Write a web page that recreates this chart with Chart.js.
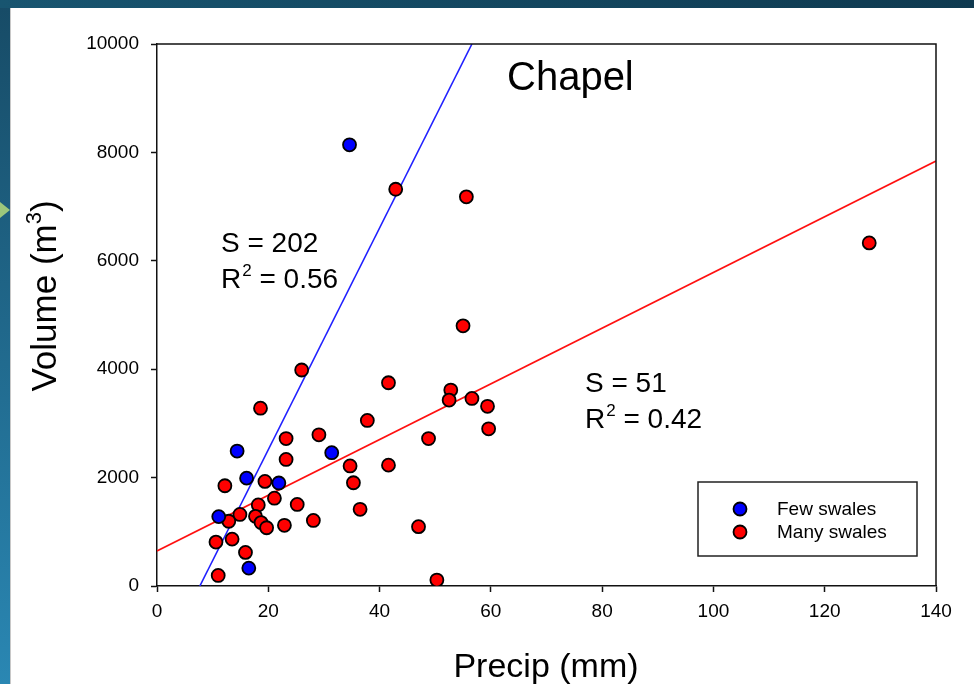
<!DOCTYPE html>
<html>
<head>
<meta charset="utf-8">
<script src="https://cdn.jsdelivr.net/npm/chart.js@4.4.1/dist/chart.umd.min.js"></script>
<style>
  html, body { margin: 0; padding: 0; }
  body {
    width: 974px; height: 684px; overflow: hidden; position: relative;
    background: linear-gradient(to bottom, #174b66, #2a87b3);
    font-family: "Liberation Sans", Arial, sans-serif;
  }
  .top-strip {
    position: absolute; left: 0; top: 0; width: 974px; height: 8px;
    background: linear-gradient(to right, #185570, #0f3a50);
  }
  .panel {
    position: absolute; left: 10px; top: 8px; right: 0; bottom: 0;
    background: #ffffff; border-left: 1px solid #c8c8c8;
  }
  .arrow {
    position: absolute; left: 0; top: 202px; width: 0; height: 0;
    border-top: 8px solid transparent; border-bottom: 8px solid transparent;
    border-left: 10px solid #9cc77c;
  }
  #scatterChart { position: absolute; left: 0; top: 0; }
</style>
</head>
<body>
<div class="top-strip"></div>
<div class="panel"></div>
<div class="arrow"></div>
<canvas id="scatterChart" width="974" height="684"></canvas>

<script>
// Chapel: runoff volume vs precipitation
const fewX = [34.6, 14.4, 16.1, 21.9, 31.4, 11.1, 16.5]
const fewY = [8140, 2490, 1990, 1900, 2460, 1280, 330]

const manyX = [42.9, 55.6, 128.0, 55.0, 26.0, 41.6, 52.8, 52.5, 56.6, 59.4, 18.6, 37.8, 59.6,
  23.2, 29.1, 48.8, 23.2, 34.7, 41.6, 12.2, 19.4, 35.3, 21.1, 18.2, 25.2, 36.5, 14.9, 17.7,
  12.9, 18.7, 19.7, 22.9, 28.1, 47.0, 10.6, 13.5, 15.9, 11.0, 50.3]
const manyY = [7320, 7180, 6330, 4800, 3985, 3750, 3615, 3430, 3460, 3315, 3280, 3055, 2900,
  2720, 2790, 2720, 2335, 2215, 2230, 1850, 1930, 1905, 1620, 1495, 1505, 1415, 1320, 1285,
  1195, 1170, 1075, 1120, 1210, 1095, 810, 865, 620, 195, 110]

// regression lines, end points
const fewFitX = [7.7, 56.6]
const fewFitY = [0, 10000]
const manyFitX = [0, 140]
const manyFitY = [646, 7840]

const seriesLabels = ["Few swales", "Many swales"]
const xTicks = [0, 20, 40, 60, 80, 100, 120, 140]
const yTicks = [0, 2000, 4000, 6000, 8000, 10000]

const FONT = "'Liberation Sans', Arial, sans-serif"

function toPoints(xs, ys) {
  return xs.map((x, i) => ({ x: x, y: ys[i] }))
}

// text, frame and boxed legend drawn on the canvas
const decorPlugin = {
  id: "decor",
  afterDraw(chart) {
    const ctx = chart.ctx
    const a = chart.chartArea
    ctx.save()

    // top and right frame lines
    ctx.strokeStyle = "#111"
    ctx.lineWidth = 1.5
    ctx.beginPath()
    ctx.moveTo(a.left, a.top)
    ctx.lineTo(a.right, a.top)
    ctx.lineTo(a.right, a.bottom)
    ctx.stroke()

    ctx.fillStyle = "#000"
    ctx.textBaseline = "alphabetic"
    ctx.textAlign = "left"

    ctx.font = "40px " + FONT
    ctx.fillText("Chapel", 507, 90)

    drawFit(ctx, 221, 252, "202", "0.56")
    drawFit(ctx, 585, 392, "51", "0.42")

    // axis titles
    ctx.font = "34px " + FONT
    ctx.textAlign = "center"
    ctx.fillText("Precip (mm)", 546, 677)

    ctx.save()
    ctx.translate(56, 296)
    ctx.rotate(-Math.PI / 2)
    ctx.textAlign = "left"
    ctx.font = "35px " + FONT
    const w1 = ctx.measureText("Volume (m").width
    ctx.font = "22px " + FONT
    const w2 = ctx.measureText("3").width
    ctx.font = "35px " + FONT
    const w3 = ctx.measureText(")").width
    let x0 = -(w1 + w2 + w3) / 2
    ctx.fillText("Volume (m", x0, 0)
    ctx.font = "22px " + FONT
    ctx.fillText("3", x0 + w1, -15)
    ctx.font = "35px " + FONT
    ctx.fillText(")", x0 + w1 + w2, 0)
    ctx.restore()

    // legend box
    ctx.strokeStyle = "#222"
    ctx.lineWidth = 1.5
    ctx.strokeRect(698, 482, 219, 74)
    ctx.font = "19px " + FONT
    ctx.textAlign = "left"
    ctx.textBaseline = "middle"
    chart.data.datasets.slice(0, 2).forEach((ds, i) => {
      const y = 509 + i * 23
      ctx.beginPath()
      ctx.arc(740, y, 6.5, 0, Math.PI * 2)
      ctx.fillStyle = ds.backgroundColor
      ctx.fill()
      ctx.lineWidth = 1.8
      ctx.strokeStyle = "#000"
      ctx.stroke()
      ctx.fillStyle = "#000"
      ctx.fillText(ds.label, 777, y + 1)
    })

    ctx.restore()
  },
}

function drawFit(ctx, x, y, s, r2) {
  ctx.font = "28px " + FONT
  ctx.textAlign = "left"
  ctx.fillText("S = " + s, x, y)
  const y2 = y + 36
  ctx.fillText("R", x, y2)
  const wr = ctx.measureText("R").width
  ctx.font = "17px " + FONT
  ctx.fillText("2", x + wr + 1, y2 - 12)
  const w2 = ctx.measureText("2").width
  ctx.font = "28px " + FONT
  ctx.fillText(" = " + r2, x + wr + w2 + 1, y2)
}

function createScatterChart() {
  const ctx = document.getElementById("scatterChart").getContext("2d")

  new Chart(ctx, {
    type: "scatter",
    data: {
      datasets: [
        {
          label: seriesLabels[0],
          data: toPoints(fewX, fewY),
          backgroundColor: "#0000ff",
          borderColor: "#000",
          borderWidth: 1.8,
          pointRadius: 6.5,
          order: 1,
        },
        {
          label: seriesLabels[1],
          data: toPoints(manyX, manyY),
          backgroundColor: "#ff0000",
          borderColor: "#000",
          borderWidth: 1.8,
          pointRadius: 6.5,
          order: 1,
        },
        {
          label: "Few fit",
          type: "line",
          data: toPoints(fewFitX, fewFitY),
          borderColor: "#2020ff",
          borderWidth: 1.6,
          pointRadius: 0,
          fill: false,
          order: 2,
        },
        {
          label: "Many fit",
          type: "line",
          data: toPoints(manyFitX, manyFitY),
          borderColor: "#ff1010",
          borderWidth: 1.6,
          pointRadius: 0,
          fill: false,
          order: 2,
        },
      ],
    },
    options: {
      responsive: false,
      maintainAspectRatio: false,
      animation: false,
      layout: {
        padding: { left: 0, top: 44, right: 38, bottom: 0 },
      },
      plugins: {
        legend: { display: false },
        tooltip: { enabled: false },
      },
      scales: {
        x: {
          type: "linear",
          min: 0,
          max: 140,
          afterBuildTicks: (scale) => {
            scale.ticks = xTicks.map((v) => ({ value: v }))
          },
          afterFit: (scale) => {
            scale.height = 98
          },
          ticks: {
            color: "#000",
            padding: 8,
            font: { family: FONT, size: 19 },
            callback: (v) => String(v),
          },
          grid: {
            drawOnChartArea: false,
            drawTicks: true,
            tickLength: 6,
            tickColor: "#111",
            tickWidth: 1.5,
          },
          border: { display: true, color: "#111", width: 1.5 },
        },
        y: {
          type: "linear",
          min: 0,
          max: 10000,
          afterBuildTicks: (scale) => {
            scale.ticks = yTicks.map((v) => ({ value: v }))
          },
          afterFit: (scale) => {
            scale.width = 157
          },
          ticks: {
            color: "#000",
            padding: 12,
            font: { family: FONT, size: 19 },
            callback: (v) => String(v),
          },
          grid: {
            drawOnChartArea: false,
            drawTicks: true,
            tickLength: 6,
            tickColor: "#111",
            tickWidth: 1.5,
          },
          border: { display: true, color: "#111", width: 1.5 },
        },
      },
    },
    plugins: [decorPlugin],
  })
}

document.addEventListener("DOMContentLoaded", () => {
  createScatterChart()
})
</script>
</body>
</html>
